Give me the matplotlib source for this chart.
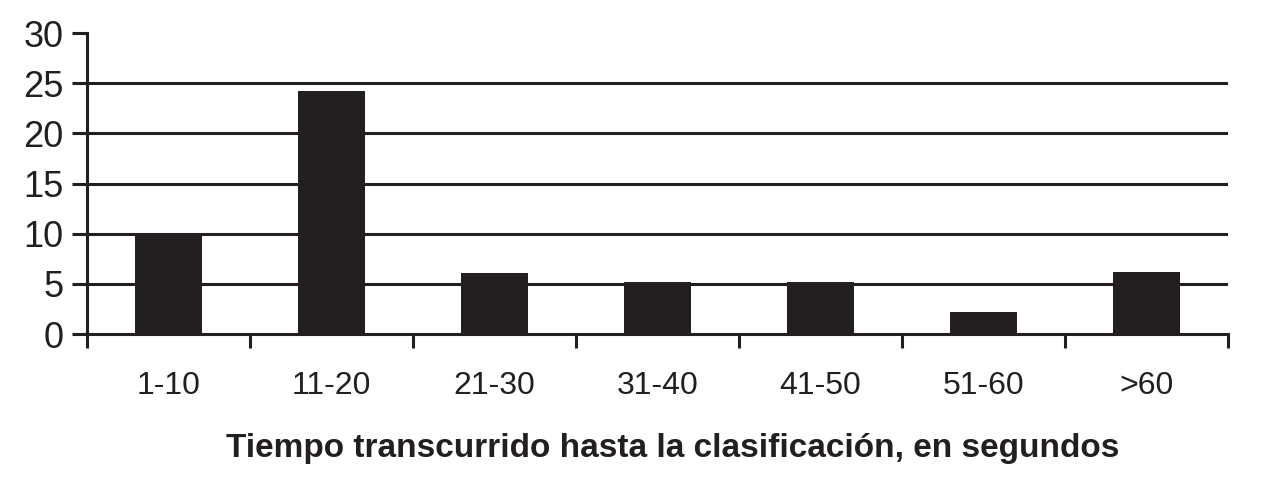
import matplotlib
matplotlib.use("Agg")
import matplotlib.pyplot as plt
import numpy as np

categories = ["1-10", "11-20", "21-30", "31-40", "41-50", "51-60", ">60"]
counts = [10, 24.2, 6.1, 5.2, 5.2, 2.2, 6.2]
y_ticks = [0, 5, 10, 15, 20, 25, 30]
x_title = "Tiempo transcurrido hasta la clasificación, en segundos"

ink = "#231f20"
plt.rcParams["font.family"] = ["Liberation Sans", "DejaVu Sans"]

fig = plt.figure(figsize=(12.7, 4.87), dpi=100)
ax = fig.add_axes([87 / 1270, (487 - 334) / 487, (1228 - 87) / 1270, (334 - 33) / 487])

x = np.arange(len(categories))
ax.bar(x, counts, width=0.41, color=ink, zorder=3)

ax.set_xlim(-0.5, len(categories) - 0.5)
ax.set_ylim(0, 30)

# grid lines (none at 30)
for v in y_ticks[1:-1]:
    ax.axhline(v, color=ink, lw=2.2, zorder=1)

ax.set_yticks(y_ticks)
ax.set_yticklabels([str(v) for v in y_ticks], fontsize=26, color=ink)
ax.tick_params(axis="y", length=11, width=2.2, color=ink, pad=6)

# category labels centered, ticks on boundaries
ax.set_xticks(np.arange(len(categories) + 1) - 0.5)
ax.set_xticklabels([])
ax.tick_params(axis="x", length=10, width=2.2, color=ink)
ax.set_xticks(x, minor=True)
ax.set_xticklabels(categories, minor=True, fontsize=23, color=ink)
ax.tick_params(axis="x", which="minor", length=0, pad=27)

for side in ["top", "right"]:
    ax.spines[side].set_visible(False)
for side in ["left", "bottom"]:
    ax.spines[side].set_color(ink)
    ax.spines[side].set_linewidth(2.2)
    ax.spines[side].set_zorder(4)

fig.text(673 / 1270, 1 - 449 / 487, x_title, ha="center", va="center",
         fontsize=24, fontweight="bold", color=ink)

fig.savefig("out.png", dpi=100)
